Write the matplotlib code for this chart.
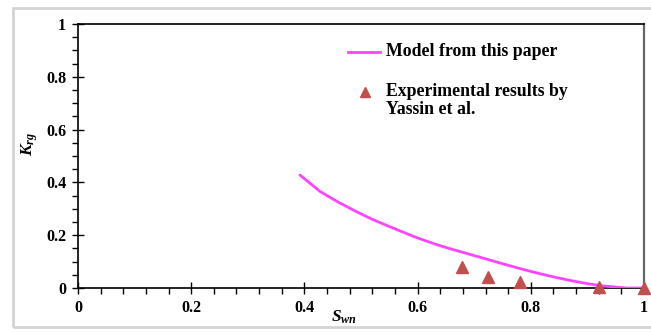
import matplotlib
matplotlib.use("Agg")
import matplotlib.pyplot as plt
from matplotlib.patches import Rectangle
from matplotlib.ticker import MultipleLocator, FixedFormatter, FixedLocator

# Relative permeability to gas vs. normalized wetting saturation
sw_model = [0.392, 0.428, 0.460, 0.492, 0.520, 0.551, 0.575, 0.598, 0.634,
            0.657, 0.693, 0.716, 0.745, 0.775, 0.805, 0.834, 0.864, 0.893,
            0.922, 0.952, 0.970, 1.0]
krg_model = [0.428, 0.365, 0.325, 0.289, 0.260, 0.232, 0.211, 0.191, 0.164,
             0.149, 0.127, 0.113, 0.095, 0.077, 0.060, 0.045, 0.031, 0.019,
             0.009, 0.003, 0.0, 0.0]

sw_exp = [0.678, 0.725, 0.781, 0.921, 1.0]
krg_exp = [0.080, 0.041, 0.022, 0.003, 0.0]

x_ticks = [0, 0.2, 0.4, 0.6, 0.8, 1]
x_tick_labels = ["0", "0.2", "0.4", "0.6", "0.8", "1"]
y_ticks = [0, 0.2, 0.4, 0.6, 0.8, 1]
y_tick_labels = ["0", "0.2", "0.4", "0.6", "0.8", "1"]

model_label = "Model from this paper"
exp_label = "Experimental results by\nYassin et al."

plt.rcParams["font.family"] = ["Liberation Serif", "DejaVu Serif"]
plt.rcParams["font.weight"] = "bold"
plt.rcParams["mathtext.fontset"] = "custom"
plt.rcParams["mathtext.it"] = "Liberation Serif:italic:bold"
plt.rcParams["mathtext.rm"] = "Liberation Serif:bold"

fig = plt.figure(figsize=(6.51, 3.32), dpi=100)
fig.patch.set_facecolor("white")

# light frame around the whole figure
fig.patches.append(Rectangle((13 / 651, 5 / 332), 1.2, 1 - 13 / 332,
                             transform=fig.transFigure, fill=False,
                             edgecolor="#d4d4d4", lw=2, zorder=0))

ax = fig.add_axes([78 / 651, 44 / 332, 566 / 651, 264 / 332])

line_color = "#ff44ff"
tri_color = "#c0504d"

ax.plot(sw_model, krg_model, color=line_color, lw=2.0, zorder=3,
        solid_capstyle="round", solid_joinstyle="round")
ax.plot(sw_exp, krg_exp, linestyle="none", marker="^", color=tri_color,
        markersize=8, clip_on=False, zorder=4)

ax.set_xlim(0, 1)
ax.set_ylim(0, 1)

ax.xaxis.set_major_locator(FixedLocator(x_ticks))
ax.xaxis.set_major_formatter(FixedFormatter(x_tick_labels))
ax.yaxis.set_major_locator(FixedLocator(y_ticks))
ax.yaxis.set_major_formatter(FixedFormatter(y_tick_labels))
ax.xaxis.set_minor_locator(MultipleLocator(0.04))
ax.yaxis.set_minor_locator(MultipleLocator(0.05))

ax.tick_params(which="major", direction="inout", length=9, width=1.0,
               labelsize=11.5, color="black")
ax.tick_params(which="minor", direction="out", length=4.5, width=1.0,
               color="black")
ax.tick_params(axis="x", which="major", pad=4)
ax.tick_params(axis="y", which="major", pad=4)
for lab in ax.get_xticklabels() + ax.get_yticklabels():
    lab.set_fontweight("bold")

ax.spines["left"].set_color("black")
ax.spines["left"].set_linewidth(1.2)
ax.spines["top"].set_color("black")
ax.spines["top"].set_linewidth(1.2)
ax.spines["right"].set_color("#666666")
ax.spines["right"].set_linewidth(1.6)
ax.spines["bottom"].set_color("black")
ax.spines["bottom"].set_linewidth(1.2)
ax.spines["bottom"].set_linestyle((0, (3, 1)))

ax.text(-0.085, 0.545, r"$K_{rg}$", transform=ax.transAxes, rotation=90,
        ha="center", va="center", fontsize=12.5)
ax.text(0.47, -0.11, r"$S_{wn}$", transform=ax.transAxes,
        ha="center", va="center", fontsize=12.5)

# legend drawn as text and marker handles
ax.plot([0.477, 0.533], [0.894, 0.894], transform=ax.transAxes,
        color=line_color, lw=2.0, clip_on=False)
ax.text(0.545, 0.894, model_label, transform=ax.transAxes, ha="left",
        va="center", fontsize=12.8, fontweight="bold")
ax.plot([0.507], [0.742], transform=ax.transAxes, marker="^",
        color=tri_color, markersize=7, linestyle="none", clip_on=False)
ax.text(0.545, 0.71, exp_label, transform=ax.transAxes, ha="left",
        va="center", fontsize=12.8, fontweight="bold", linespacing=1.08)

fig.savefig("out.png", dpi=100, facecolor="white")
